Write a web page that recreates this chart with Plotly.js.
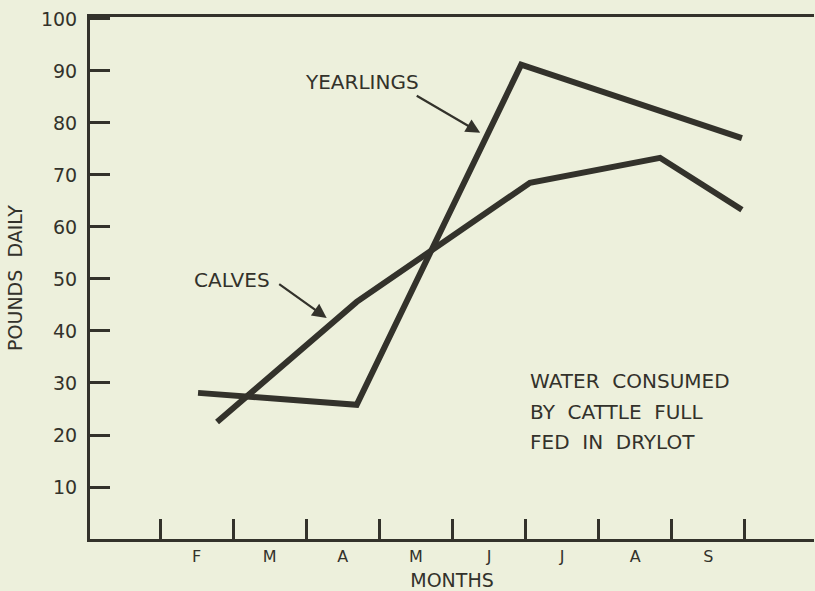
<!DOCTYPE html>
<html>
<head>
<meta charset="utf-8">
<script src="https://cdn.plot.ly/plotly-3.0.1.min.js"></script>
<style>
  html, body { margin: 0; padding: 0; background: #edf0dc; }
  #chart { width: 815px; height: 591px; }
</style>
</head>
<body>
<div id="chart"></div>
<script>
// Month labels sit between the month-boundary tick marks
const monthLabels = ['F', 'M', 'A', 'M', 'J', 'J', 'A', 'S'];
const monthLabelPos = [0.5, 1.5, 2.5, 3.5, 4.5, 5.5, 6.5, 7.5];
const monthBoundaries = [0, 1, 2, 3, 4, 5, 6, 7, 8];

// Series (x in month units from the first boundary tick, y in pounds daily)
const yearlingsX = [0.52, 2.69, 4.94, 7.96];
const yearlingsY = [28.1, 25.8, 91.2, 77.1];

const calvesX = [0.78, 2.69, 5.06, 6.84, 7.96];
const calvesY = [22.5, 45.6, 68.5, 73.3, 63.3];

const yTicks = [10, 20, 30, 40, 50, 60, 70, 80, 90, 100];

const ink = '#33322b';
const bg = '#edf0dc';
const fontFam = 'DejaVu Sans, sans-serif';

const traces = [
  {
    x: yearlingsX, y: yearlingsY, name: 'YEARLINGS',
    type: 'scatter', mode: 'lines',
    line: { color: ink, width: 6 }
  },
  {
    x: calvesX, y: calvesY, name: 'CALVES',
    type: 'scatter', mode: 'lines',
    line: { color: ink, width: 6 }
  }
];

const layout = {
  width: 815, height: 591,
  margin: { l: 90, r: 1, t: 17, b: 52 },
  paper_bgcolor: bg, plot_bgcolor: bg,
  showlegend: false,
  font: { family: fontFam, color: ink },
  xaxis: {
    range: [-0.958, 8.946],
    showgrid: false, zeroline: false,
    showline: true, linecolor: ink, linewidth: 3, mirror: true,
    tickmode: 'array', tickvals: monthLabelPos, ticktext: monthLabels,
    ticks: '', tickfont: { size: 16, color: ink, family: fontFam },
    ticklabelstandoff: 1,
    minor: {
      tickmode: 'array', tickvals: monthBoundaries,
      ticks: 'inside', ticklen: 20, tickwidth: 3, tickcolor: ink,
      showgrid: false
    },
    title: { text: 'MONTHS', font: { size: 19, color: ink, family: fontFam }, standoff: 9 }
  },
  yaxis: {
    range: [0, 100.38],
    showgrid: false, zeroline: false,
    showline: true, linecolor: ink, linewidth: 3,
    tickmode: 'array', tickvals: yTicks,
    ticks: 'inside', ticklen: 20, tickwidth: 3, tickcolor: ink,
    tickfont: { size: 19, color: ink, family: fontFam },
    ticklabelstandoff: 6,
    title: { text: 'POUNDS  DAILY', font: { size: 19, color: ink, family: fontFam }, standoff: 14 }
  },
  annotations: [
    { x: 2.76, y: 87.9, xref: 'x', yref: 'y', text: 'YEARLINGS', showarrow: false,
      font: { size: 20, color: ink, family: fontFam } },
    { x: 4.38, y: 78.1, xref: 'x', yref: 'y', text: '', showarrow: true,
      ax: -65, ay: -38, arrowhead: 2, arrowsize: 1.3, arrowwidth: 2.2, arrowcolor: ink },
    { x: 0.985, y: 49.8, xref: 'x', yref: 'y', text: 'CALVES', showarrow: false,
      font: { size: 20, color: ink, family: fontFam } },
    { x: 2.28, y: 42.5, xref: 'x', yref: 'y', text: '', showarrow: true,
      ax: -49, ay: -35, arrowhead: 2, arrowsize: 1.3, arrowwidth: 2.2, arrowcolor: ink },
    { x: 5.03, y: 30.4, xref: 'x', yref: 'y', xanchor: 'left', text: 'WATER  CONSUMED', showarrow: false,
      font: { size: 20, color: ink, family: fontFam } },
    { x: 5.03, y: 24.4, xref: 'x', yref: 'y', xanchor: 'left', text: 'BY  CATTLE  FULL', showarrow: false,
      font: { size: 20, color: ink, family: fontFam } },
    { x: 5.03, y: 18.65, xref: 'x', yref: 'y', xanchor: 'left', text: 'FED  IN  DRYLOT', showarrow: false,
      font: { size: 20, color: ink, family: fontFam } }
  ]
};

Plotly.newPlot('chart', traces, layout, { displayModeBar: false, staticPlot: true });
</script>
</body>
</html>
